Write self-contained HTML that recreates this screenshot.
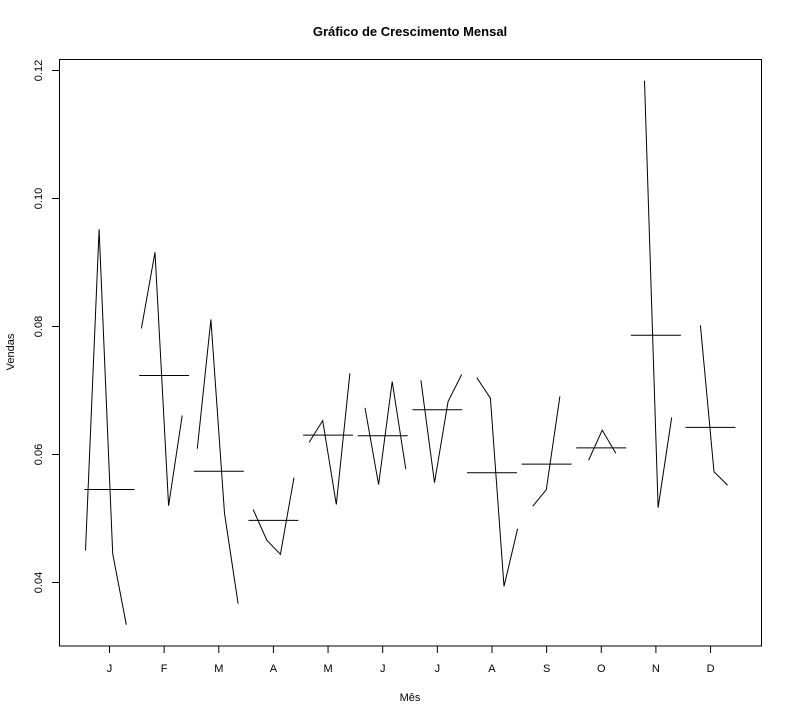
<!DOCTYPE html>
<html><head><meta charset="utf-8">
<style>
html,body{margin:0;padding:0;background:#fff;}
svg{display:block;font-family:"Liberation Sans",Arial,sans-serif;}
</style></head>
<body>
<svg id="chart" width="792" height="720" viewBox="0 0 792 720" xmlns="http://www.w3.org/2000/svg">
<rect x="0" y="0" width="792" height="720" fill="#fff"/>
<text x="410" y="36" text-anchor="middle" font-size="13" font-weight="bold">Gráfico de Crescimento Mensal</text>
<text x="410" y="701" text-anchor="middle" font-size="11">Mês</text>
<text transform="translate(14,352) rotate(-90)" text-anchor="middle" font-size="11">Vendas</text>
<rect x="59.5" y="59.5" width="702" height="586.5" fill="none" stroke="#000" stroke-width="1"/>
<g id="marks"></g>
</svg>
<script>
const months = ["J","F","M","A","M","J","J","A","S","O","N","D"];
const yearValues = [
  [0.0450,0.0952,0.0445,0.0334],
  [0.0797,0.0916,0.0520,0.0661],
  [0.0609,0.0811,0.0508,0.0367],
  [0.0514,0.0466,0.0444,0.0564],
  [0.0619,0.0653,0.0522,0.0727],
  [0.0673,0.0553,0.0714,0.0577],
  [0.0716,0.0556,0.0683,0.0725],
  [0.0720,0.0688,0.0394,0.0484],
  [0.0519,0.0545,0.0691],
  [0.0591,0.0638,0.0602],
  [0.1184,0.0517,0.0658],
  [0.0802,0.0573,0.0552]
];
const yTicks = [0.04,0.06,0.08,0.10,0.12];
const yTickLabels = ["0.04","0.06","0.08","0.10","0.12"];

const NS="http://www.w3.org/2000/svg";
const g=document.getElementById('marks');
function yScale(v){return 582.5-(v-0.04)*6400;}
function xMonth(i){return 109.5+54.64*i;}
function xPoint(i,j){return 85.5+55.9*i+13.6*j;}
function mk(tag,attrs){const e=document.createElementNS(NS,tag);for(const k in attrs)e.setAttribute(k,attrs[k]);g.appendChild(e);return e;}

yTicks.forEach((t,k)=>{
  const y=yScale(t);
  const tk=mk('line',{x1:52,x2:59.5,y1:y,y2:y,stroke:'#000','stroke-width':1});
  
  
  const tx=mk('text',{transform:`translate(42,${y}) rotate(-90)`,'text-anchor':'middle','font-size':11});
  
  
  tx.textContent=yTickLabels[k];
});

months.forEach((m,i)=>{
  const cx=xMonth(i);
  const tk=mk('line',{x1:cx,x2:cx,y1:646,y2:653,stroke:'#000','stroke-width':1});
  
  
  const tx=mk('text',{x:cx,y:672,'text-anchor':'middle','font-size':11});
  
  
  tx.textContent=m;

  const vals=yearValues[i];
  const n=vals.length;
  const pts=vals.map((v,j)=>`${xPoint(i,j)},${yScale(v)}`).join(' ');
  const pl=mk('polyline',{points:pts,fill:'none',stroke:'#000','stroke-width':1});
  
  

  const mean=vals.reduce((a,b)=>a+b,0)/n;
  const ym=yScale(mean);
  const ml=mk('line',{x1:cx-25,x2:cx+25,y1:ym,y2:ym,stroke:'#000','stroke-width':1});
  
  
});
</script>
</body></html>
